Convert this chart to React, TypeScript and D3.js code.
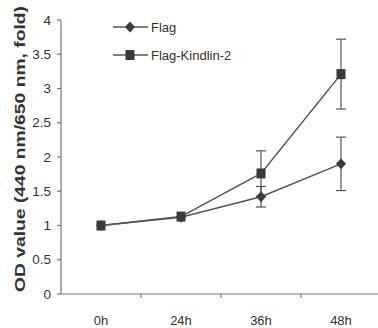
import React from "react";
import * as d3 from "d3";

const categories = ["0h", "24h", "36h", "48h"];
const flagValues = [1.0, 1.12, 1.42, 1.9];
const flagErrors = [0.02, 0.03, 0.15, 0.39];
const kindlinValues = [1.0, 1.13, 1.76, 3.21];
const kindlinErrors = [0.02, 0.03, 0.33, 0.51];
const yTicks = [0, 0.5, 1, 1.5, 2, 2.5, 3, 3.5, 4];
const seriesNames = ["Flag", "Flag-Kindlin-2"];

export default function App() {
  const W = 378, H = 328;
  const left = 61, right = 381, top = 20, bottom = 294;
  const x = d3.scaleBand<string>().domain(categories).range([left, right]);
  const y = d3.scaleLinear().domain([0, 4]).range([bottom, top]);
  const cx = (c: string) => (x(c) as number) + x.bandwidth() / 2;
  const line = d3.line<number>().x((_, i) => cx(categories[i])).y((v) => y(v));
  const lineColor = "#555";
  const markColor = "#3a3a3a";
  const axisColor = "#777";
  const font = "Liberation Sans, Arial, sans-serif";

  const errBars = (vals: number[], errs: number[], key: string) =>
    vals.map((v, i) => {
      const X = cx(categories[i]);
      if (errs[i] < 0.05) return null;
      return (
        <g key={key + i} stroke={lineColor} strokeWidth={1.2}>
          <line x1={X} x2={X} y1={y(v + errs[i])} y2={y(v - errs[i])} />
          <line x1={X - 5} x2={X + 5} y1={y(v + errs[i])} y2={y(v + errs[i])} />
          <line x1={X - 5} x2={X + 5} y1={y(v - errs[i])} y2={y(v - errs[i])} />
        </g>
      );
    });

  const diamond = (X: number, Y: number, k: string) => (
    <path key={k} d={`M${X},${Y - 5.5}L${X + 5},${Y}L${X},${Y + 5.5}L${X - 5},${Y}Z`} fill={markColor} />
  );
  const square = (X: number, Y: number, k: string) => (
    <rect key={k} x={X - 4.5} y={Y - 5} width={9} height={10} fill={markColor} />
  );

  return (
    <svg width={W} height={H} style={{ position: "absolute", left: 0, top: 0, background: "#fff" }}>
      {/* axes */}
      <line x1={left} x2={left} y1={top} y2={bottom} stroke={axisColor} strokeWidth={1.2} />
      <line x1={left} x2={W} y1={bottom} y2={bottom} stroke={axisColor} strokeWidth={1.2} />
      {yTicks.map((t) => (
        <g key={t}>
          <line x1={left - 4} x2={left} y1={y(t)} y2={y(t)} stroke={axisColor} strokeWidth={1.2} />
          <text x={left - 10} y={y(t)} dy="0.35em" textAnchor="end" fontFamily={font} fontSize={13.5} fill="#333">
            {t}
          </text>
        </g>
      ))}
      {categories.map((c, i) => (
        <g key={c}>
          {i > 0 && (
            <line x1={x(c) as number} x2={x(c) as number} y1={bottom} y2={bottom + 4} stroke={axisColor} strokeWidth={1.2} />
          )}
          <text x={cx(c)} y={bottom + 31} textAnchor="middle" fontFamily={font} fontSize={13} fill="#333">
            {c}
          </text>
        </g>
      ))}
      <text
        transform={`translate(25,149) rotate(-90)`}
        textAnchor="middle"
        fontFamily={font}
        fontWeight="bold"
        fontSize={15}
        textLength={286}
        lengthAdjust="spacingAndGlyphs"
        fill="#333"
      >
        OD value (440 nm/650 nm, fold)
      </text>

      {/* error bars */}
      {errBars(flagValues, flagErrors, "fe")}
      {errBars(kindlinValues, kindlinErrors, "ke")}

      {/* lines */}
      <path d={line(kindlinValues) || ""} fill="none" stroke={lineColor} strokeWidth={1.5} />
      <path d={line(flagValues) || ""} fill="none" stroke={lineColor} strokeWidth={1.5} />
      {kindlinValues.map((v, i) => square(cx(categories[i]), y(v), "ks" + i))}
      {flagValues.map((v, i) => diamond(cx(categories[i]), y(v), "fd" + i))}

      {/* legend */}
      <g>
        <line x1={113} x2={148} y1={27} y2={27} stroke={lineColor} strokeWidth={1.5} />
        {diamond(130, 27, "ld")}
        <text x={151} y={27} dy="0.35em" fontFamily={font} fontSize={13} fill="#333">
          {seriesNames[0]}
        </text>
        <line x1={113} x2={148} y1={55} y2={55} stroke={lineColor} strokeWidth={1.5} />
        {square(130, 55, "ls")}
        <text x={151} y={55} dy="0.35em" fontFamily={font} fontSize={13} fill="#333">
          {seriesNames[1]}
        </text>
      </g>
    </svg>
  );
}
